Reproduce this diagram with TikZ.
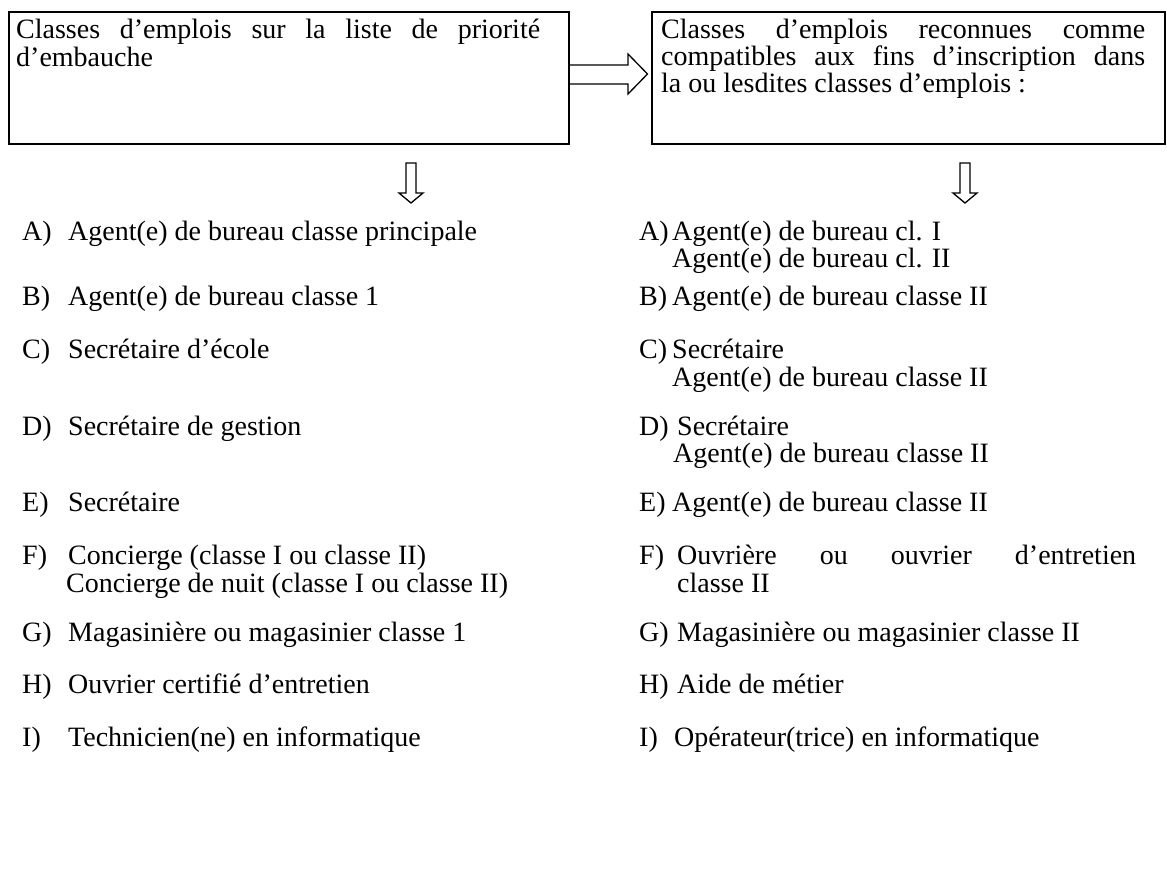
\documentclass[tikz,border=0pt]{standalone}
\usepackage{fontspec}
\setmainfont{Liberation Serif}
\usetikzlibrary{calc}
\begin{document}
\begin{tikzpicture}[x=1pt,y=-1pt,
  t/.style={anchor=base west, inner sep=0pt, font=\fontsize{28}{28}\selectfont},
  box/.style={draw, line width=2pt, inner sep=0pt},
  blk/.style={draw, line width=1.3pt, fill=white, line join=miter}]
\useasboundingbox (0,0) rectangle (1167,886);
% boxes
\node[box, minimum width=560pt, minimum height=132pt] (b1) at (289,78) {};
\node[box, minimum width=513pt, minimum height=132pt] (b2) at (908,78) {};
\node[t] (b1l1) at (16,38) {\hbox to 524pt{Classes\hfill d’emplois\hfill sur\hfill la\hfill liste\hfill de\hfill priorité}};
\node[t] (b1l2) at (16,66) {d’embauche};
\node[t] (b2l1) at (661,38) {\hbox to 484pt{Classes\hfill d’emplois\hfill reconnues\hfill comme}};
\node[t] (b2l2) at (661,65) {\hbox to 484pt{compatibles\hfill aux\hfill fins\hfill d’inscription\hfill dans}};
\node[t] (b2l3) at (661,92) {la ou lesdites classes d’emplois :};
% block arrow between boxes
\draw[blk] ($(b1.east)+(0,-13)$) -- ($(b1.east)+(58,-13)$) -- ($(b1.east)+(58,-24)$)
  -- ($(b2.west)+(-3,-4)$) -- ($(b1.east)+(58,16)$) -- ($(b1.east)+(58,6)$) -- ($(b1.east)+(0,6)$);
% down arrows
\coordinate (d1) at (411,163);
\coordinate (d2) at (965,163);
\foreach \d in {d1,d2}{
  \draw[blk] ($(\d)+(-5,0)$) -- ($(\d)+(5,0)$) -- ($(\d)+(5,30)$) -- ($(\d)+(12,30)$)
    -- ($(\d)+(0,40)$) -- ($(\d)+(-12,30)$) -- ($(\d)+(-5,30)$) -- cycle;
}
% left list
\node[t] (lA) at (22,240) {A)}; \node[t] (lAt) at (68,240) {Agent(e) de bureau classe principale};
\node[t] (lB) at (22,305) {B)}; \node[t] (lBt) at (68,305) {Agent(e) de bureau classe 1};
\node[t] (lC) at (22,358) {C)}; \node[t] (lCt) at (68,358) {Secrétaire d’école};
\node[t] (lD) at (22,435) {D)}; \node[t] (lDt) at (68,435) {Secrétaire de gestion};
\node[t] (lE) at (22,511) {E)}; \node[t] (lEt) at (68,511) {Secrétaire};
\node[t] (lF) at (22,564) {F)}; \node[t] (lFt) at (68,564) {Concierge (classe I ou classe II)};
\node[t] (lFt2) at (66,592) {Concierge de nuit (classe I ou classe II)};
\node[t] (lG) at (22,641) {G)}; \node[t] (lGt) at (68,641) {Magasinière ou magasinier classe 1};
\node[t] (lH) at (22,693) {H)}; \node[t] (lHt) at (68,693) {Ouvrier certifié d’entretien};
\node[t] (lI) at (22,746) {I)}; \node[t] (lIt) at (68,746) {Technicien(ne) en informatique};
% right list
\node[t] (rA) at (639,240) {A)}; \node[t] (rAt) at (672,240) {Agent(e) de bureau cl. I};
\node[t] (rAt2) at (672,267) {Agent(e) de bureau cl. II};
\node[t] (rB) at (639,305) {B)}; \node[t] (rBt) at (672,305) {Agent(e) de bureau classe II};
\node[t] (rC) at (639,358) {C)}; \node[t] (rCt) at (672,358) {Secrétaire};
\node[t] (rCt2) at (672,386) {Agent(e) de bureau classe II};
\node[t] (rD) at (639,435) {D)}; \node[t] (rDt) at (677,435) {Secrétaire};
\node[t] (rDt2) at (673,462) {Agent(e) de bureau classe II};
\node[t] (rE) at (639,511) {E)}; \node[t] (rEt) at (672,511) {Agent(e) de bureau classe II};
\node[t] (rF) at (639,564) {F)}; \node[t] (rFt) at (677,564) {\hbox to 459pt{Ouvrière\hfill ou\hfill ouvrier\hfill d’entretien}};
\node[t] (rFt2) at (677,592) {classe II};
\node[t] (rG) at (639,641) {G)}; \node[t] (rGt) at (677,641) {Magasinière ou magasinier classe II};
\node[t] (rH) at (639,693) {H)}; \node[t] (rHt) at (677,693) {Aide de métier};
\node[t] (rI) at (639,746) {I)}; \node[t] (rIt) at (674,746) {Opérateur(trice) en informatique};
\end{tikzpicture}
\end{document}
